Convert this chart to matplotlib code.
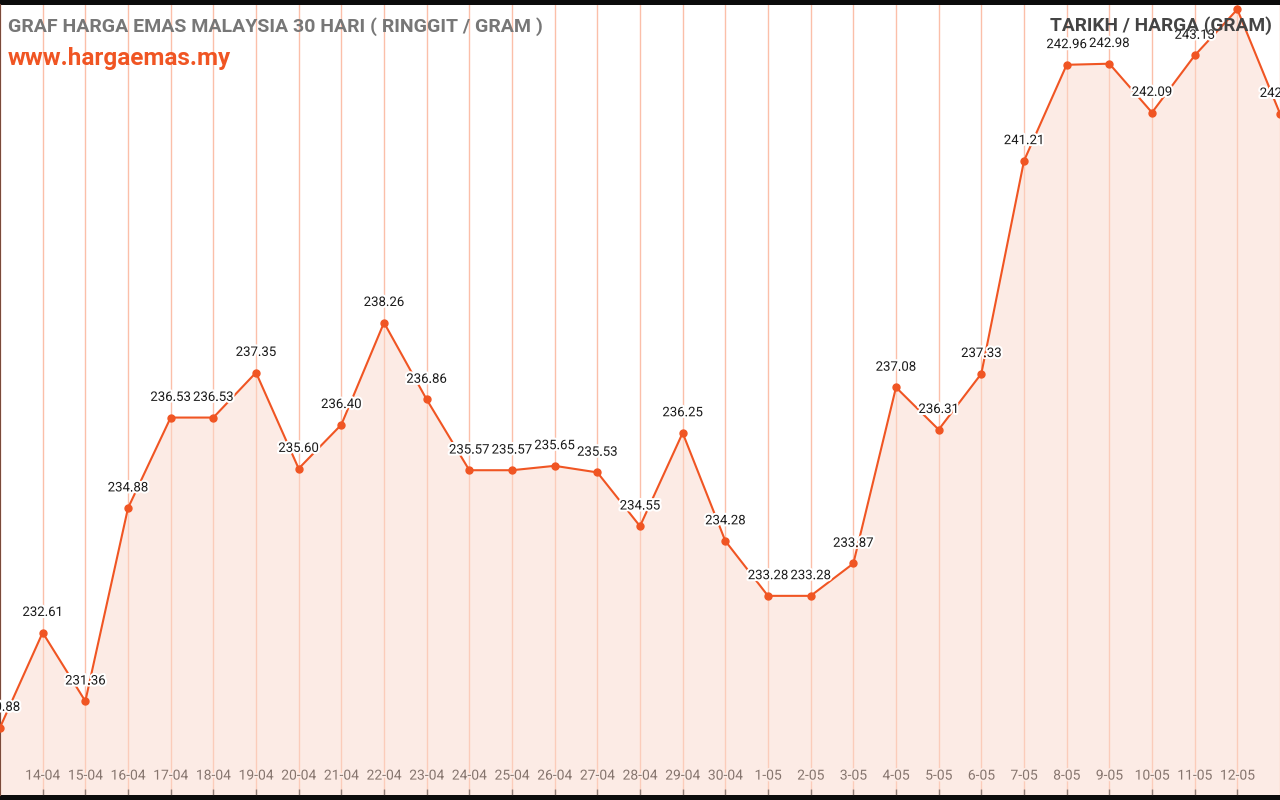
import matplotlib.pyplot as plt
import matplotlib.patheffects as pe

# data (harga emas, ringgit / gram)
dates = ['13-04', '14-04', '15-04', '16-04', '17-04', '18-04', '19-04', '20-04',
         '21-04', '22-04', '23-04', '24-04', '25-04', '26-04', '27-04', '28-04',
         '29-04', '30-04', '1-05', '2-05', '3-05', '4-05', '5-05', '6-05',
         '7-05', '8-05', '9-05', '10-05', '11-05', '12-05', '13-05']
prices = [230.88, 232.61, 231.36, 234.88, 236.53, 236.53, 237.35, 235.60,
          236.40, 238.26, 236.86, 235.57, 235.57, 235.65, 235.53, 234.55,
          236.25, 234.28, 233.28, 233.28, 233.87, 237.08, 236.31, 237.33,
          241.21, 242.96, 242.98, 242.09, 243.13, 243.97, 242.07]

plt.rcParams['font.family'] = ['Roboto', 'DejaVu Sans']

orange = '#f05523'
halo = [pe.withStroke(linewidth=3, foreground='white')]

fig = plt.figure(figsize=(12.8, 8), dpi=100, facecolor='#0c0c0c')
ax = fig.add_axes([0, 5 / 800, 1, 790 / 800])
ax.set_facecolor('white')

x = list(range(len(dates)))
ax.set_xlim(0, len(dates) - 1)
ax.set_ylim(229.65, 244.05)

# garis grid menegak
for xi in x:
    ax.axvline(xi, color='#fbbfa9', lw=1, zorder=1)

ax.fill_between(x, prices, 229.65, color='#fbd9cc', alpha=0.5, lw=0, zorder=2)
ax.plot(x, prices, color=orange, lw=1.5, marker='o', ms=5, zorder=3,
        clip_on=False)

for xi, p in zip(x, prices):
    t = ax.annotate(f'{p:.2f}', (xi, p), xytext=(0, 12), textcoords='offset points',
                    ha='center', va='baseline', fontsize=9.5, color='#1a1a1a',
                    zorder=4)
    t.set_path_effects(halo)

ax.set_xticks(x[1:-1])
ax.set_xticklabels(dates[1:-1], fontsize=10, color='#111111')
ax.tick_params(axis='x', direction='in', length=4, width=1, color='#222222',
               pad=-19)
for lbl in ax.get_xticklabels():
    lbl.set_path_effects([pe.withStroke(linewidth=2.5, foreground='white')])
    lbl.set_zorder(5)
ax.set_yticks([])

for s in ['top', 'right', 'bottom']:
    ax.spines[s].set_visible(False)
ax.spines['left'].set_color('#7a4a3a')
ax.spines['left'].set_linewidth(1.5)

ax.text(8, 773, 'GRAF HARGA EMAS MALAYSIA 30 HARI ( RINGGIT / GRAM )',
        transform=None, fontsize=14, fontweight='bold', color='#777777',
        ha='left', va='center', zorder=6)
ax.text(8, 741, 'www.hargaemas.my', transform=None, fontsize=17.5,
        fontweight='bold', color=orange, ha='left', va='center', zorder=6)
ax.text(1272, 774, 'TARIKH / HARGA (GRAM)', transform=None, fontsize=13.8,
        fontweight='bold', color='#444444', ha='right', va='center', zorder=6)

fig.savefig('out.png', dpi=100, facecolor=fig.get_facecolor())
